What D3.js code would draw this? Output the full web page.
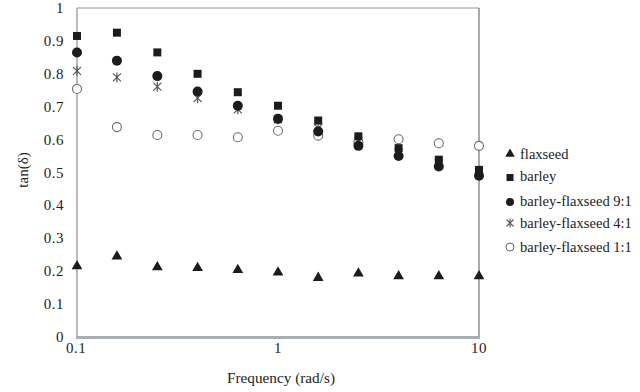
<!DOCTYPE html>
<html lang="en">
<head>
    <meta charset="utf-8" />
    <title>tan(delta) vs frequency</title>
    <script src="https://d3js.org/d3.v7.min.js"></script>
    <style>
        body { margin: 0; background: #fff; }
    </style>
</head>
<body>
<script>
    var w = 640;
    var h = 392;

    // Frequencies (rad/s)
    var frequency = [0.1, 0.158, 0.251, 0.398, 0.631, 1, 1.585, 2.512, 3.981, 6.31, 10];

    var flaxseed = [0.215, 0.245, 0.212, 0.210, 0.204, 0.196, 0.180, 0.193, 0.185, 0.185, 0.185];
    var barley = [0.915, 0.925, 0.865, 0.800, 0.744, 0.703, 0.658, 0.610, 0.574, 0.539, 0.508];
    var mix91 = [0.865, 0.840, 0.793, 0.746, 0.703, 0.663, 0.625, 0.581, 0.550, 0.518, 0.490];
    var mix41 = [0.809, 0.789, 0.761, 0.726, 0.692, 0.662, 0.635, 0.595, 0.560, 0.528, 0.500];
    var mix11 = [0.754, 0.638, 0.614, 0.614, 0.607, 0.627, 0.612, 0.592, 0.601, 0.589, 0.581];

    var seriesNames = ["flaxseed", "barley", "barley-flaxseed 9:1", "barley-flaxseed 4:1", "barley-flaxseed 1:1"];
    var seriesValues = [flaxseed, barley, mix91, mix41, mix11];
    var seriesSymbols = ["triangle", "square", "circle", "star", "open"];

    var yTicks = [0, 0.1, 0.2, 0.3, 0.4, 0.5, 0.6, 0.7, 0.8, 0.9, 1];
    var xTicks = [0.1, 1, 10];

    var xScale = d3.scaleLog()
        .domain([0.1, 10])
        .range([77, 479]);

    var yScale = d3.scaleLinear()
        .domain([0, 1])
        .range([337, 8]);

    var svg = d3.select("body")
        .append("svg")
        .attr("width", w)
        .attr("height", h)
        .attr("font-family", "'Liberation Serif', 'Times New Roman', serif")
        .attr("fill", "#222");

    // scale a text's font so it spans roughly the width seen in the picture
    function fitWidth(sel, base, target) {
        var len = sel.node().getComputedTextLength();
        if (len > 0) {
            var fs = Math.max(12, Math.min(18, base * target / len));
            sel.attr("font-size", fs + "px");
            return fs;
        }
        return base;
    }

    // Plot frame
    svg.append("line")
        .attr("x1", 77).attr("x2", 479).attr("y1", 8).attr("y2", 8)
        .attr("stroke", "#8a9296").attr("stroke-width", 1);
    svg.append("line")
        .attr("x1", 479).attr("x2", 479).attr("y1", 8).attr("y2", 337)
        .attr("stroke", "#6c7478").attr("stroke-width", 1.2);
    svg.append("line")
        .attr("x1", 77).attr("x2", 77).attr("y1", 8).attr("y2", 338)
        .attr("stroke", "#b4bcbf").attr("stroke-width", 2);
    svg.append("line")
        .attr("x1", 76).attr("x2", 480).attr("y1", 337.5).attr("y2", 337.5)
        .attr("stroke", "#a8b0b3").attr("stroke-width", 3);

    // Y axis tick labels
    svg.selectAll("text.ytick")
        .data(yTicks)
        .enter()
        .append("text")
        .attr("class", "ytick")
        .attr("x", 64)
        .attr("y", function(d) { return yScale(d) + 5; })
        .attr("text-anchor", "end")
        .attr("font-size", "15px")
        .attr("letter-spacing", "0.5px")
        .text(function(d) { return d === 0 ? "0" : d === 1 ? "1" : d3.format(".1f")(d); });

    // X axis tick labels
    svg.selectAll("text.xtick")
        .data(xTicks)
        .enter()
        .append("text")
        .attr("class", "xtick")
        .attr("x", function(d) { return xScale(d) + (d === 0.1 ? -1 : 0); })
        .attr("y", 353)
        .attr("text-anchor", "middle")
        .attr("font-size", "15px")
        .attr("letter-spacing", "0.5px")
        .text(function(d) { return String(d); });

    // Axis titles
    var xTitle = svg.append("text")
        .attr("x", 281)
        .attr("y", 383)
        .attr("text-anchor", "middle")
        .attr("font-size", "15px")
        .text("Frequency (rad/s)");
    fitWidth(xTitle, 15, 108);

    svg.append("text")
        .attr("transform", "translate(28,170) rotate(-90)")
        .attr("text-anchor", "middle")
        .attr("font-size", "15px")
        .text("tan(δ)");

    // Draw one marker
    function drawMarker(g, type, x, y) {
        if (type === "triangle") {
            g.append("path")
                .attr("d", d3.symbol().type(d3.symbolTriangle).size(50)())
                .attr("transform", "translate(" + x + "," + y + ")")
                .attr("fill", "#1c1c1c");
        } else if (type === "square") {
            g.append("rect")
                .attr("x", x - 4).attr("y", y - 4)
                .attr("width", 8).attr("height", 8)
                .attr("fill", "#1c1c1c");
        } else if (type === "circle") {
            g.append("circle")
                .attr("cx", x).attr("cy", y).attr("r", 5)
                .attr("fill", "#1c1c1c");
        } else if (type === "star") {
            var s = 4;
            g.append("path")
                .attr("d", "M" + (x - s) + "," + (y - s) + "L" + (x + s) + "," + (y + s) +
                    "M" + (x - s) + "," + (y + s) + "L" + (x + s) + "," + (y - s) +
                    "M" + x + "," + (y - s - 1) + "L" + x + "," + (y + s + 1))
                .attr("stroke", "#555").attr("stroke-width", 1.2).attr("fill", "none");
        } else {
            g.append("circle")
                .attr("cx", x).attr("cy", y).attr("r", 4.5)
                .attr("fill", "#fff")
                .attr("stroke", "#6a6a6a").attr("stroke-width", 1.1);
        }
    }

    // Draw series (back to front: open circles first)
    var order = [4, 3, 1, 2, 0];
    order.forEach(function(si) {
        var g = svg.append("g");
        seriesValues[si].forEach(function(v, i) {
            drawMarker(g, seriesSymbols[si], xScale(frequency[i]), yScale(v));
        });
    });

    // Legend
    var legend = svg.append("g");
    var legendTexts = [];
    seriesNames.forEach(function(name, i) {
        var ly = [154, 176, 201, 223, 247][i];
        var lg = legend.append("g");
        if (seriesSymbols[i] === "circle") {
            lg.append("circle").attr("cx", 510).attr("cy", ly + 1).attr("r", 4).attr("fill", "#1c1c1c");
        } else if (seriesSymbols[i] === "square") {
            lg.append("rect").attr("x", 506.5).attr("y", ly - 2).attr("width", 7).attr("height", 7).attr("fill", "#1c1c1c");
        } else if (seriesSymbols[i] === "triangle") {
            lg.append("path")
                .attr("d", d3.symbol().type(d3.symbolTriangle).size(40)())
                .attr("transform", "translate(510," + ly + ")")
                .attr("fill", "#1c1c1c");
        } else if (seriesSymbols[i] === "star") {
            var s = 3.5;
            lg.append("path")
                .attr("d", "M" + (510 - s) + "," + (ly - s) + "L" + (510 + s) + "," + (ly + s) +
                    "M" + (510 - s) + "," + (ly + s) + "L" + (510 + s) + "," + (ly - s) +
                    "M510," + (ly - s - 1) + "L510," + (ly + s + 1))
                .attr("stroke", "#555").attr("stroke-width", 1.1).attr("fill", "none");
        } else {
            lg.append("circle").attr("cx", 510).attr("cy", ly).attr("r", 4)
                .attr("fill", "#fff").attr("stroke", "#6a6a6a").attr("stroke-width", 1);
        }
        legendTexts.push(lg.append("text")
            .attr("x", 520)
            .attr("y", ly + 5)
            .attr("font-size", "15px")
            .text(name));
    });
    // match the legend width to the picture (longest entry ends near x=632)
    var legendSize = fitWidth(legendTexts[2], 15, 112);
    legendTexts.forEach(function(t) { t.attr("font-size", legendSize + "px"); });
</script>
</body>
</html>
